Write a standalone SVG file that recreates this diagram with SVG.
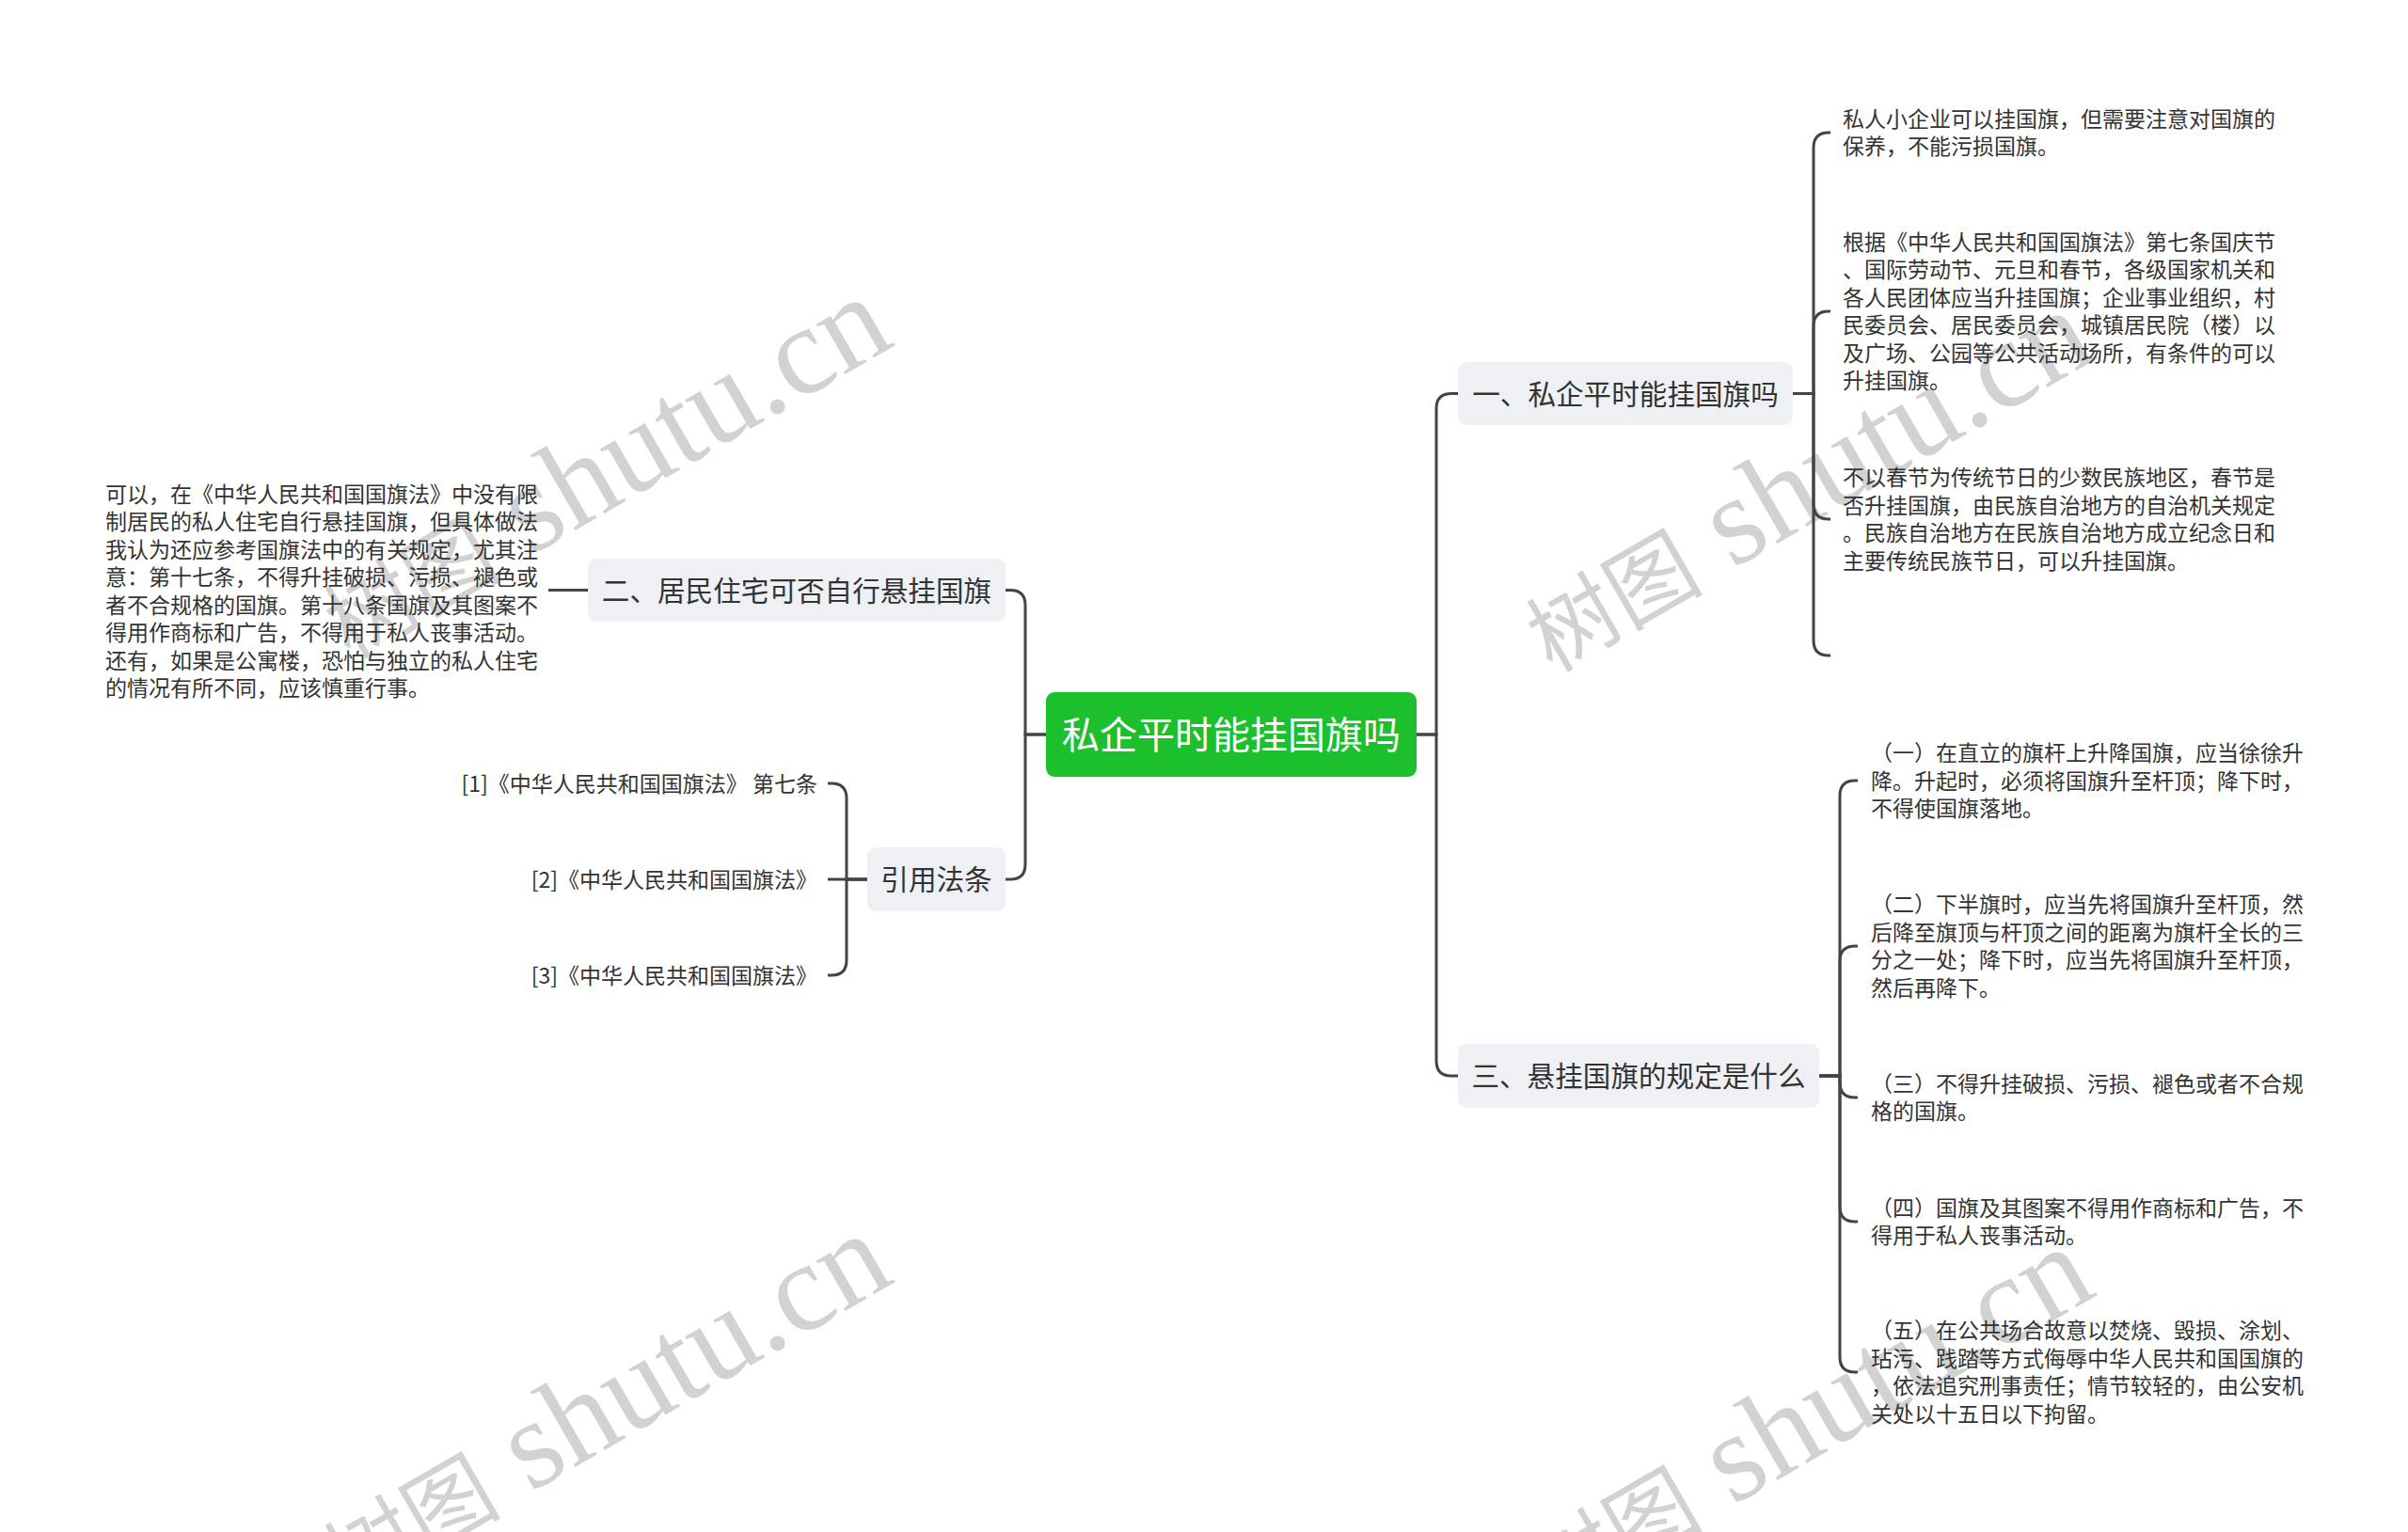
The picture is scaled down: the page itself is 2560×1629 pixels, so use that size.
<svg xmlns="http://www.w3.org/2000/svg" width="2560" height="1629" viewBox="0 0 2560 1629">
<style>
text{font-family:"Noto Sans CJK SC","Noto Sans",sans-serif}
.line{fill:none;stroke:#444;stroke-width:3}
.box{fill:#eef0f3}
.nt{font-size:29.6px;fill:#333;text-anchor:middle}
.leaf{font-size:23px;fill:#333}
.end{text-anchor:end}
.root{fill:#1cbf2c}
.rt{font-size:40px;fill:#fff;text-anchor:middle}
.wm{fill:#d2d2d2}
.wc{font-size:94px;font-family:"Noto Sans CJK SC",sans-serif}
.wl{font-size:134px;font-family:"Liberation Serif",serif}
</style>
<defs>
<text id="wmt" class="wm"><tspan class="wc">树图</tspan><tspan class="wl"> shutu.cn</tspan></text>
</defs>
<rect width="2560" height="1629" fill="#fff"/>
<g id="watermarks">
<use href="#wmt" transform="translate(372,702) rotate(-30)"/>
<use href="#wmt" transform="translate(1650,716) rotate(-30)"/>
<use href="#wmt" transform="translate(372,1698) rotate(-30)"/>
<use href="#wmt" transform="translate(1650,1712) rotate(-30)"/>
</g>
<g id="connectors">
<path class="line" d="M1505 781 H1527 V434.5 Q1527 418.5 1543 418.5 H1550"/>
<path class="line" d="M1505 781 H1527 V1128 Q1527 1144 1543 1144 H1550"/>
<path class="line" d="M1112 781 H1090 V643.5 Q1090 627.5 1074 627.5 H1069"/>
<path class="line" d="M1112 781 H1090 V919 Q1090 935 1074 935 H1069"/>
<path class="line" d="M625 627.5 H583"/>
<path class="line" d="M922 935 H900 V849 Q900 833 884 833 H880"/>
<path class="line" d="M922 935 H880"/>
<path class="line" d="M922 935 H900 V1021 Q900 1037 884 1037 H880"/>
<path class="line" d="M1906 418.5 H1928 V157 Q1928 141 1944 141 H1946"/>
<path class="line" d="M1906 418.5 H1928 V347 Q1928 331 1944 331 H1946"/>
<path class="line" d="M1906 418.5 H1928 V536 Q1928 552 1944 552 H1946"/>
<path class="line" d="M1906 418.5 H1928 V681 Q1928 697 1944 697 H1946"/>
<path class="line" d="M1934 1144 H1956 V846 Q1956 830 1972 830 H1975"/>
<path class="line" d="M1934 1144 H1956 V1022 Q1956 1006 1972 1006 H1975"/>
<path class="line" d="M1934 1144 H1956 V1151 Q1956 1167 1972 1167 H1975"/>
<path class="line" d="M1934 1144 H1956 V1283 Q1956 1299 1972 1299 H1975"/>
<path class="line" d="M1934 1144 H1956 V1443 Q1956 1459 1972 1459 H1975"/>
</g>
<g id="root">
<rect class="root" x="1112" y="736" width="394" height="90" rx="9"/>
<text class="rt" x="1309" y="796">私企平时能挂国旗吗</text>
</g>
<g id="n1">
<rect class="box" x="1550" y="385" width="356" height="67" rx="9"/>
<text class="nt" x="1728" y="429.7">一、私企平时能挂国旗吗</text>
</g>
<g id="n2">
<rect class="box" x="625" y="594" width="444" height="67" rx="9"/>
<text class="nt" x="847" y="638.7">二、居民住宅可否自行悬挂国旗</text>
</g>
<g id="n3">
<rect class="box" x="1550" y="1110" width="384" height="68" rx="9"/>
<text class="nt" x="1742" y="1155.2">三、悬挂国旗的规定是什么</text>
</g>
<g id="n4">
<rect class="box" x="922" y="901" width="147" height="68" rx="9"/>
<text class="nt" x="995.5" y="946.2">引用法条</text>
</g>
<g id="n2c1">
<text class="leaf" x="112" y="533.5"><tspan x="112">可以，在《中华人民共和国国旗法》中没有限</tspan><tspan x="112" dy="29.5">制居民的私人住宅自行悬挂国旗，但具体做法</tspan><tspan x="112" dy="29.5">我认为还应参考国旗法中的有关规定，尤其注</tspan><tspan x="112" dy="29.5">意：第十七条，不得升挂破损、污损、褪色或</tspan><tspan x="112" dy="29.5">者不合规格的国旗。第十八条国旗及其图案不</tspan><tspan x="112" dy="29.5">得用作商标和广告，不得用于私人丧事活动。</tspan><tspan x="112" dy="29.5">还有，如果是公寓楼，恐怕与独立的私人住宅</tspan><tspan x="112" dy="29.5">的情况有所不同，应该慎重行事。</tspan></text>
</g>
<g id="n4c1"><text class="leaf end" x="869" y="841.5">[1]《中华人民共和国国旗法》 第七条</text></g>
<g id="n4c2"><text class="leaf end" x="869" y="943.5">[2]《中华人民共和国国旗法》</text></g>
<g id="n4c3"><text class="leaf end" x="869" y="1045.5">[3]《中华人民共和国国旗法》</text></g>
<g id="n1c1">
<text class="leaf" x="1959" y="134.75"><tspan x="1959">私人小企业可以挂国旗，但需要注意对国旗的</tspan><tspan x="1959" dy="29.5">保养，不能污损国旗。</tspan></text>
</g>
<g id="n1c2">
<text class="leaf" x="1959" y="265.75"><tspan x="1959">根据《中华人民共和国国旗法》第七条国庆节</tspan><tspan x="1959" dy="29.5">、国际劳动节、元旦和春节，各级国家机关和</tspan><tspan x="1959" dy="29.5">各人民团体应当升挂国旗；企业事业组织，村</tspan><tspan x="1959" dy="29.5">民委员会、居民委员会，城镇居民院（楼）以</tspan><tspan x="1959" dy="29.5">及广场、公园等公共活动场所，有条件的可以</tspan><tspan x="1959" dy="29.5">升挂国旗。</tspan></text>
</g>
<g id="n1c3">
<text class="leaf" x="1959" y="516.25"><tspan x="1959">不以春节为传统节日的少数民族地区，春节是</tspan><tspan x="1959" dy="29.5">否升挂国旗，由民族自治地方的自治机关规定</tspan><tspan x="1959" dy="29.5">。民族自治地方在民族自治地方成立纪念日和</tspan><tspan x="1959" dy="29.5">主要传统民族节日，可以升挂国旗。</tspan></text>
</g>
<g id="n3c1">
<text class="leaf" x="1989" y="809"><tspan x="1989">（一）在直立的旗杆上升降国旗，应当徐徐升</tspan><tspan x="1989" dy="29.5">降。升起时，必须将国旗升至杆顶；降下时，</tspan><tspan x="1989" dy="29.5">不得使国旗落地。</tspan></text>
</g>
<g id="n3c2">
<text class="leaf" x="1989" y="970.25"><tspan x="1989">（二）下半旗时，应当先将国旗升至杆顶，然</tspan><tspan x="1989" dy="29.5">后降至旗顶与杆顶之间的距离为旗杆全长的三</tspan><tspan x="1989" dy="29.5">分之一处；降下时，应当先将国旗升至杆顶，</tspan><tspan x="1989" dy="29.5">然后再降下。</tspan></text>
</g>
<g id="n3c3">
<text class="leaf" x="1989" y="1160.75"><tspan x="1989">（三）不得升挂破损、污损、褪色或者不合规</tspan><tspan x="1989" dy="29.5">格的国旗。</tspan></text>
</g>
<g id="n3c4">
<text class="leaf" x="1989" y="1292.75"><tspan x="1989">（四）国旗及其图案不得用作商标和广告，不</tspan><tspan x="1989" dy="29.5">得用于私人丧事活动。</tspan></text>
</g>
<g id="n3c5">
<text class="leaf" x="1989" y="1423.25"><tspan x="1989">（五）在公共场合故意以焚烧、毁损、涂划、</tspan><tspan x="1989" dy="29.5">玷污、践踏等方式侮辱中华人民共和国国旗的</tspan><tspan x="1989" dy="29.5">，依法追究刑事责任；情节较轻的，由公安机</tspan><tspan x="1989" dy="29.5">关处以十五日以下拘留。</tspan></text>
</g>
</svg>
